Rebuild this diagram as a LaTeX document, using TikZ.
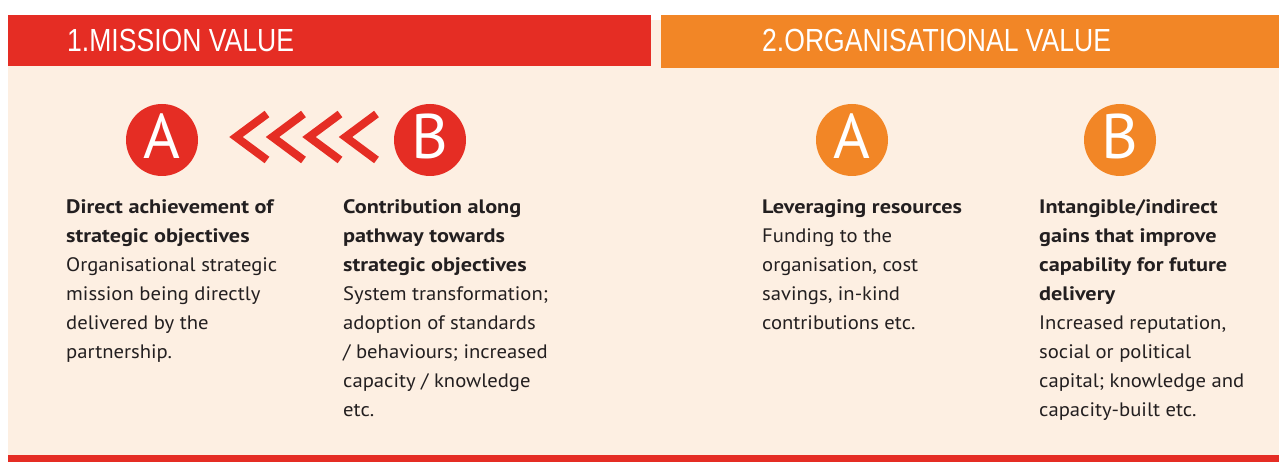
\documentclass[tikz,border=0pt]{standalone}
\usepackage{fontspec}
\setmainfont{PT Sans}[FakeStretch=1.06, BoldFeatures={FakeStretch=1.14}]
\newfontfamily\headfont[FakeStretch=0.83]{Liberation Sans}
\newfontfamily\badgefont{PT Sans}
\usetikzlibrary{positioning}

\definecolor{mvred}{RGB}{229,45,36}
\definecolor{ovorange}{RGB}{242,134,38}
\definecolor{paper}{RGB}{253,239,226}
\definecolor{ink}{RGB}{35,31,32}

\tikzset{
  headtext/.style={anchor=base west, inner sep=0pt, text=white,
    font=\headfont\fontsize{32}{32}\selectfont},
  badge/.style={circle, minimum size=72pt, inner sep=0pt, text=white,
    text depth=8pt, font=\badgefont\fontsize{63}{63}\selectfont},
  coltext/.style={anchor=north west, inner sep=0pt, align=left, text=ink,
    font=\fontsize{19.5}{29}\selectfont},
  chevron/.style={draw=mvred, line width=8pt, miter limit=10}
}

\begin{document}
\begin{tikzpicture}[x=1pt, y=-1pt]
\useasboundingbox (0,0) rectangle (1279,462);

% background and bars
\fill[paper] (8,20) rectangle (1279,455);
\fill[mvred] (8,455) rectangle (1279,462);
\fill[mvred] (8,15) rectangle (651,66);
\fill[ovorange] (661,15) rectangle (1279,68);

\node[headtext] (head1) at (67,52) {1.MISSION VALUE};
\node[headtext] (head2) at (762,52) {2.ORGANISATIONAL VALUE};

% badges
\node[badge, fill=mvred] (mA) at (162,140) {A};
\node[badge, fill=mvred] (mB) at (430,140) {B};
\node[badge, fill=ovorange] (oA) at (852,140) {A};
\node[badge, fill=ovorange] (oB) at (1120,140) {B};

% chevrons from B towards A
\foreach \i in {0,...,3} {
  \draw[chevron] ({267+36.5*\i},114) -- ({236+36.5*\i},137) -- ({267+36.5*\i},160);
}

% column texts
\node[coltext] (txtMA) at (66,199) {\bfseries Direct achievement of\\
  \bfseries strategic objectives\\
  Organisational strategic\\
  mission being directly\\
  delivered by the\\
  partnership.};
\node[coltext] (txtMB) at (343,199) {\bfseries Contribution along\\
  \bfseries pathway towards\\
  \bfseries strategic objectives\\
  System transformation;\\
  adoption of standards\\
  / behaviours; increased\\
  capacity / knowledge\\
  etc.};
\node[coltext] (txtOA) at (762,199) {\bfseries Leveraging resources\\
  Funding to the\\
  organisation, cost\\
  savings, in-kind\\
  contributions etc.};
\node[coltext] (txtOB) at (1039,199) {\bfseries Intangible/indirect\\
  \bfseries gains that improve\\
  \bfseries capability for future\\
  \bfseries delivery\\
  Increased reputation,\\
  social or political\\
  capital; knowledge and\\
  capacity-built etc.};
\end{tikzpicture}
\end{document}
